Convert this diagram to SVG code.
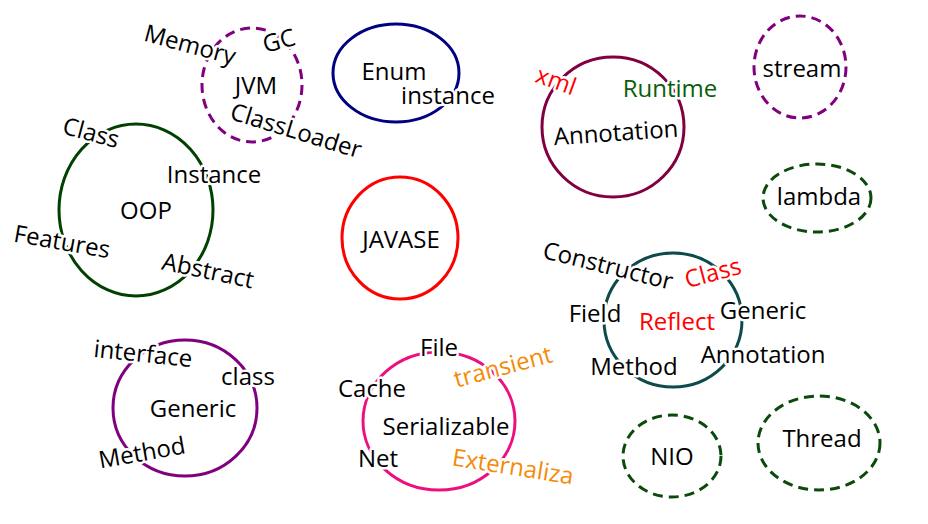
<svg xmlns="http://www.w3.org/2000/svg" width="928" height="524" viewBox="0 0 928 524">
<style>
text{font-family:"Open Sans","Noto Sans","DejaVu Sans",sans-serif;font-size:24px;fill:#000;text-anchor:middle;stroke:#fff;stroke-width:5px;paint-order:stroke;stroke-linejoin:round}
.r{fill:#ff0000}
.o{fill:#f58a07}
.g{fill:#0a5e0a}
ellipse{fill:none;stroke-width:3}
.d{stroke-dasharray:10 6}
</style>
<rect width="928" height="524" fill="#fff"/>
<g id="connectors"></g>
<g id="jvm">
<ellipse class="d" cx="252" cy="85" rx="50" ry="57" stroke="#800080"/>
<text transform="translate(190,45) rotate(15)" y="8">Memory</text>
<text transform="translate(279,41) rotate(-15)" y="8">GC</text>
<text x="256" y="94">JVM</text>
<text transform="translate(296,131) rotate(17)" y="8">ClassLoader</text>
</g>
<g id="enum">
<ellipse cx="396" cy="73" rx="63" ry="49" stroke="#000080"/>
<text x="394" y="80">Enum</text>
<text x="448" y="104">instance</text>
</g>
<g id="annotation">
<ellipse cx="613" cy="127" rx="71" ry="70" stroke="#800040"/>
<text class="r" transform="translate(556,81) rotate(20)" y="8">xml</text>
<text class="g" x="670" y="97">Runtime</text>
<text transform="translate(616,133) rotate(-4)" y="8">Annotation</text>
</g>
<g id="stream">
<ellipse class="d" cx="800" cy="67" rx="46" ry="51" stroke="#800080"/>
<text x="802" y="77">stream</text>
</g>
<g id="lambda">
<ellipse class="d" cx="817" cy="198" rx="54" ry="34" stroke="#0a4a0a"/>
<text x="819" y="205">lambda</text>
</g>
<g id="oop">
<ellipse cx="136" cy="210" rx="77" ry="86" stroke="#004000"/>
<text transform="translate(91,133) rotate(15)" y="8">Class</text>
<text x="214" y="183">Instance</text>
<text x="146" y="219">OOP</text>
<text transform="translate(62,242) rotate(10)" y="8">Features</text>
<text transform="translate(208,271) rotate(12)" y="8">Abstract</text>
</g>
<g id="javase">
<ellipse cx="400" cy="238" rx="58" ry="61" stroke="#ff0000"/>
<text x="401" y="248">JAVASE</text>
</g>
<g id="reflect">
<ellipse cx="673" cy="320" rx="69" ry="67" stroke="#0f4a4a"/>
<text transform="translate(608,266) rotate(14)" y="8">Constructor</text>
<text class="r" transform="translate(713,273) rotate(-15)" y="8">Class</text>
<text x="595" y="322">Field</text>
<text class="r" x="677" y="330">Reflect</text>
<text x="763" y="319">Generic</text>
<text x="634" y="375">Method</text>
<text x="763" y="363">Annotation</text>
</g>
<g id="generic">
<ellipse cx="185" cy="408" rx="72" ry="68" stroke="#800080"/>
<text transform="translate(143,354) rotate(6)" y="8">interface</text>
<text x="248" y="385">class</text>
<text x="193" y="417">Generic</text>
<text transform="translate(142,453) rotate(-10)" y="8">Method</text>
</g>
<g id="serializable">
<ellipse cx="439" cy="421" rx="76" ry="69" stroke="#ee0f7f"/>
<text x="439" y="356">File</text>
<text class="o" transform="translate(503,367) rotate(-15)" y="8">transient</text>
<text x="372" y="397">Cache</text>
<text x="446" y="435">Serializable</text>
<text x="378" y="467">Net</text>
<text class="o" transform="translate(513,467) rotate(9)" y="8">Externaliza</text>
</g>
<g id="nio">
<ellipse class="d" cx="672" cy="456" rx="49" ry="41" stroke="#0a4a0a"/>
<text x="672" y="465">NIO</text>
</g>
<g id="thread">
<ellipse class="d" cx="819" cy="443" rx="61" ry="47" stroke="#0a4a0a"/>
<text x="822" y="447">Thread</text>
</g>
</svg>
